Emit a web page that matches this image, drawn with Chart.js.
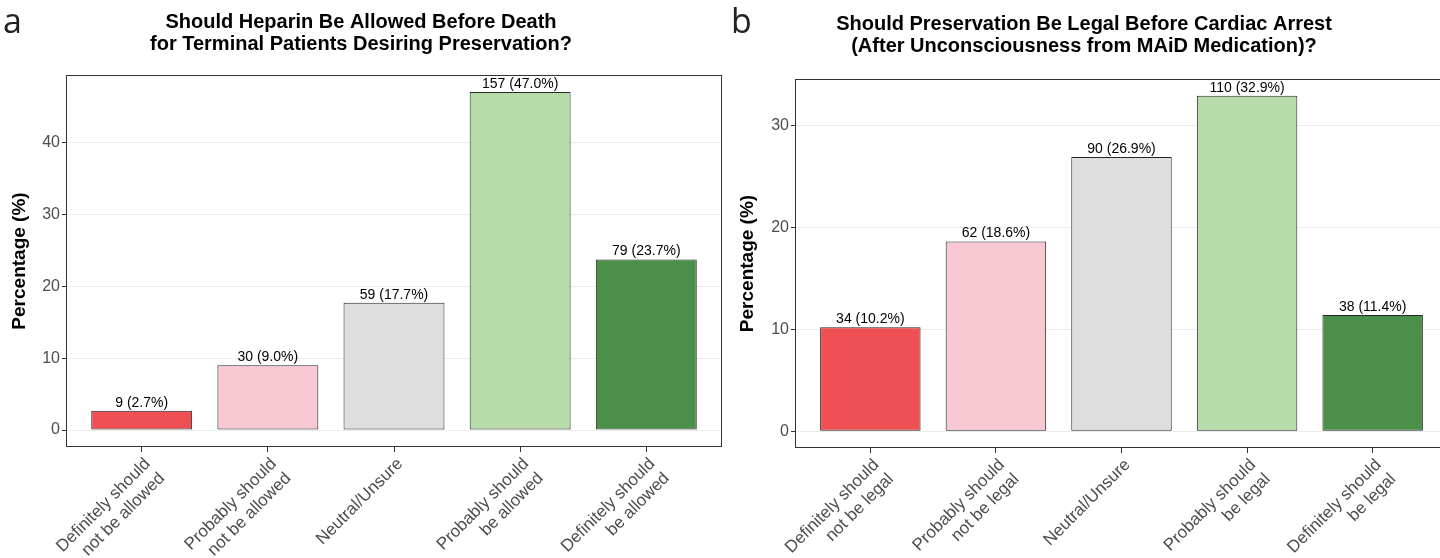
<!DOCTYPE html>
<html>
<head>
<meta charset="utf-8">
<script src="https://cdn.jsdelivr.net/npm/chart.js@4.4.0/dist/chart.umd.min.js"></script>
<style>
    html, body { margin: 0; padding: 0; background: #fff; overflow: hidden; }
    #wrap { position: relative; width: 1440px; height: 558px; overflow: hidden; }
    .panel { position: absolute; top: 0; height: 558px; }
    #pa { left: 0; width: 722px; }
    #pb { left: 720px; width: 802px; }
    .letter { position: absolute; font-family: "Open Sans", sans-serif; font-size: 34px; line-height: 1; color: #222; }
</style>
</head>
<body>
<div id="wrap">
    <div class="panel" id="pa"><canvas id="chartA"></canvas></div>
    <div class="panel" id="pb"><canvas id="chartB"></canvas></div>
    <div class="letter" style="left:3px; top:3px;">a</div>
    <div class="letter" style="left:731px; top:3px;">b</div>
</div>
<script>
// Survey responses, panel a (heparin) and panel b (preservation before arrest)
const categoriesA = [
    ['Definitely should', 'not be allowed'],
    ['Probably should', 'not be allowed'],
    ['Neutral/Unsure'],
    ['Probably should', 'be allowed'],
    ['Definitely should', 'be allowed']
];
const countsA = [9, 30, 59, 157, 79];
const percentA = [2.7, 9.0, 17.7, 47.0, 23.7];
const yTicksA = [0, 10, 20, 30, 40];

const categoriesB = [
    ['Definitely should', 'not be legal'],
    ['Probably should', 'not be legal'],
    ['Neutral/Unsure'],
    ['Probably should', 'be legal'],
    ['Definitely should', 'be legal']
];
const countsB = [34, 62, 90, 110, 38];
const percentB = [10.2, 18.6, 26.9, 32.9, 11.4];
const yTicksB = [0, 10, 20, 30];

const barColors = ['#EF5053', '#F8C9D3', '#DEDEDE', '#B6DCA9', '#4B9048'];

Chart.defaults.font.family = '"Liberation Sans", Arial, sans-serif';
Chart.defaults.color = '#4D4D4D';

// Count (percent) text above each bar
const barLabels = {
    id: 'barLabels',
    afterDatasetsDraw(chart, args, opts) {
        const ctx = chart.ctx;
        const meta = chart.getDatasetMeta(0);
        ctx.save();
        ctx.font = '14px "Liberation Sans", Arial, sans-serif';
        ctx.fillStyle = '#000';
        ctx.textAlign = 'center';
        ctx.textBaseline = 'bottom';
        meta.data.forEach((bar, i) => {
            ctx.fillText(opts.labels[i], bar.x, bar.y - 1);
        });
        ctx.restore();
    }
};

// Panel border like theme_bw
const panelBorder = {
    id: 'panelBorder',
    afterDatasetsDraw(chart) {
        const { ctx, chartArea: a } = chart;
        ctx.save();
        ctx.strokeStyle = '#333333';
        ctx.lineWidth = 1;
        ctx.strokeRect(Math.round(a.left) + 0.5, Math.round(a.top) + 0.5,
            Math.round(a.right - a.left) - 1, Math.round(a.bottom - a.top) - 1);
        ctx.restore();
    }
};

/**
 * Build one bar panel
 */
function createPanel(canvasId, cfg) {
    const ctx = document.getElementById(canvasId).getContext('2d');
    const maxPct = Math.max(...cfg.percent);
    const pad = maxPct * 0.05;

    return new Chart(ctx, {
        type: 'bar',
        data: {
            datasets: [{
                data: cfg.percent.map((v, i) => ({ x: i + 1, y: v })),
                backgroundColor: barColors,
                borderColor: '#262626',
                borderWidth: 1,
                borderSkipped: false,
                categoryPercentage: 1,
                barPercentage: 0.8
            }]
        },
        options: {
            responsive: true,
            maintainAspectRatio: false,
            animation: false,
            layout: { padding: { left: 0, right: cfg.padRight, top: 0, bottom: 0 } },
            plugins: {
                legend: { display: false },
                tooltip: { enabled: false },
                title: {
                    display: true,
                    text: cfg.title,
                    color: '#000',
                    font: { size: 20, weight: 'bold', lineHeight: 1.1 },
                    padding: cfg.titlePad
                },
                barLabels: {
                    labels: cfg.counts.map((c, i) => `${c} (${cfg.percent[i].toFixed(1)}%)`)
                }
            },
            scales: {
                x: {
                    type: 'linear',
                    min: 0.4,
                    max: 5.6,
                    offset: false,
                    afterBuildTicks: s => { s.ticks = cfg.categories.map((c, i) => ({ value: i + 1 })); },
                    afterFit: s => { s.height = cfg.xHeight; },
                    grid: { offset: false, drawOnChartArea: false, tickLength: 5, tickColor: '#333333' },
                    border: { display: false },
                    ticks: {
                        autoSkip: false,
                        minRotation: 45,
                        maxRotation: 45,
                        padding: 2,
                        labelOffset: 6,
                        color: '#4D4D4D',
                        font: { size: 17 },
                        callback: v => cfg.categories[v - 1]
                    }
                },
                y: {
                    min: -pad,
                    max: maxPct + pad,
                    afterBuildTicks: s => { s.ticks = cfg.yTicks.map(v => ({ value: v })); },
                    afterFit: s => { s.width = cfg.yWidth; },
                    grid: { color: '#EBEBEB', tickLength: 4, tickColor: '#333333' },
                    border: { display: false },
                    ticks: { padding: 2, color: '#4D4D4D', font: { size: 16 } },
                    title: {
                        display: true,
                        text: 'Percentage (%)',
                        color: '#000',
                        font: { size: 19, weight: 'bold' },
                        padding: { top: cfg.yTitlePad, bottom: 0 }
                    }
                }
            }
        },
        plugins: [barLabels, panelBorder]
    });
}

createPanel('chartA', {
    title: ['Should Heparin Be Allowed Before Death', 'for Terminal Patients Desiring Preservation?'],
    categories: categoriesA,
    counts: countsA,
    percent: percentA,
    yTicks: yTicksA,
    yWidth: 66,
    yTitlePad: 8,
    xHeight: 111,
    padRight: 0,
    titlePad: { top: 11, bottom: 20 }
});

createPanel('chartB', {
    title: ['Should Preservation Be Legal Before Cardiac Arrest', '(After Unconsciousness from MAiD Medication)?'],
    categories: categoriesB,
    counts: countsB,
    percent: percentB,
    yTicks: yTicksB,
    yWidth: 75,
    yTitlePad: 16,
    xHeight: 110,
    padRight: 74,
    titlePad: { top: 13, bottom: 22 }
});
</script>
</body>
</html>
